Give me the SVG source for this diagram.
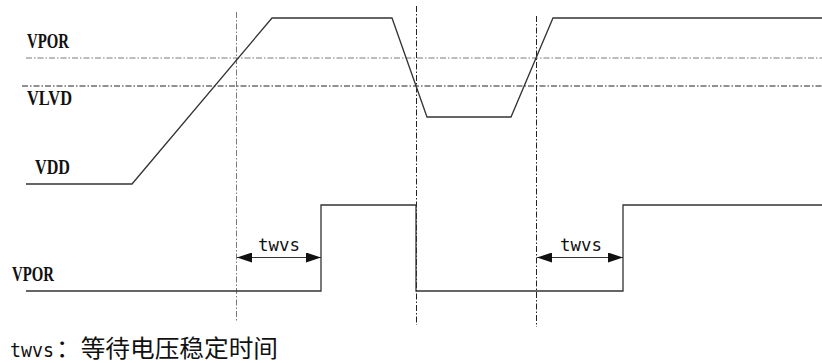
<svg xmlns="http://www.w3.org/2000/svg" width="822" height="363" viewBox="0 0 822 363">
<style>
.bg{fill:#ffffff}
.wave{fill:none;stroke:#333333;stroke-width:1.3;stroke-linejoin:miter}
.guide{fill:none;stroke-width:1;stroke-dasharray:6 2 1.5 2}
.g1{stroke:#7a7a7a}
.g2{stroke:#222222}
.dim{fill:none;stroke:#333333;stroke-width:1.2}
.lbl{font-family:"Liberation Serif","Times New Roman",serif;font-weight:bold;font-size:21px;fill:#111111}
.tw{font-family:"DejaVu Sans Mono","Liberation Mono",monospace;font-size:18px;fill:#111111}
.cap{fill:#111111}
</style>
<defs>
<marker id="ah" viewBox="0 0 15 10" refX="15" refY="5" markerWidth="15" markerHeight="10" markerUnits="userSpaceOnUse" orient="auto-start-reverse">
<path d="M0,0 L15,5 L0,10 Z" fill="#111111"/>
</marker>
</defs>
<rect class="bg" x="0" y="0" width="822" height="363"/>
<g id="guides">
<line class="guide g1" x1="26" y1="58" x2="822" y2="58"/>
<line class="guide g2" x1="22" y1="86" x2="822" y2="86"/>
<line class="guide g1" x1="236.5" y1="12" x2="236.5" y2="322"/>
<line class="guide g2" x1="416.5" y1="6" x2="416.5" y2="325"/>
<line class="guide g2" x1="536.5" y1="16" x2="536.5" y2="327"/>
</g>
<g id="vdd-wave">
<polyline class="wave" points="26,184 132,184 272,18 392,18 427,117 511,117 553,18 822,18"/>
</g>
<g id="vpor-wave">
<polyline class="wave" points="26,291 321,291 321,205 416,205 416,291 623,291 623,205 822,205"/>
</g>
<g id="connectors">
<line class="dim" x1="237" y1="257.5" x2="321" y2="257.5" marker-start="url(#ah)" marker-end="url(#ah)"/>
<line class="dim" x1="537" y1="257.5" x2="623" y2="257.5" marker-start="url(#ah)" marker-end="url(#ah)"/>
</g>
<g id="label-vpor-top">
<text class="lbl" x="27" y="48" textLength="42" lengthAdjust="spacingAndGlyphs">VPOR</text>
</g>
<g id="label-vlvd">
<text class="lbl" x="27" y="105" textLength="45" lengthAdjust="spacingAndGlyphs">VLVD</text>
</g>
<g id="label-vdd">
<text class="lbl" x="35" y="174" textLength="35" lengthAdjust="spacingAndGlyphs">VDD</text>
</g>
<g id="label-vpor-bottom">
<text class="lbl" x="12" y="281" textLength="42" lengthAdjust="spacingAndGlyphs">VPOR</text>
</g>
<g id="label-twvs-1">
<text class="tw" x="258" y="251" textLength="42" lengthAdjust="spacingAndGlyphs">twvs</text>
</g>
<g id="label-twvs-2">
<text class="tw" x="560" y="251" textLength="42" lengthAdjust="spacingAndGlyphs">twvs</text>
</g>
<g id="caption">
<text class="cap" y="357"><tspan x="10" font-family="'DejaVu Sans Mono','Liberation Mono',monospace" font-size="20" textLength="44" lengthAdjust="spacingAndGlyphs">twvs</tspan><tspan x="56" font-family="'Noto Sans CJK SC','Noto Sans CJK JP',sans-serif" font-size="23.5" textLength="222" lengthAdjust="spacingAndGlyphs">：等待电压稳定时间</tspan></text>
</g>
</svg>
